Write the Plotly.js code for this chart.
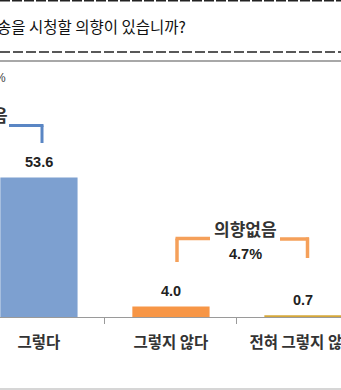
<!DOCTYPE html>
<html>
<head>
<meta charset="utf-8">
<script src="https://cdn.plot.ly/plotly-3.0.1.min.js"></script>
<style>
  html, body { margin: 0; padding: 0; background: #ffffff; }
  #chart { width: 341px; height: 390px; }
</style>
</head>
<body>
<div id="chart"></div>
<script>
// ---- data ----
const categories = ["그렇다", "그렇지 않다", "전혀 그렇지 않다"];
const values = [53.6, 4.0, 0.7];
const barColors = ["#7da0d0", "#f79646", "#d6a83a"];
const questionText = "송을 시청할 의향이 있습니까?";
const unitLabel = "%";
const yesGroupLabel = "의향있음";
const noGroupLabel = "의향없음";
const noGroupValue = values[1] + values[2];

// ---- layout helpers (pixel -> paper) ----
const W = 341, H = 390, MB = 73;
const PH = H - MB;                 // plot height
const pxX = x => x / W;
const pxY = y => (PH - y) / PH;
const unitPx = 139.6 / 53.6;        // pixels per %

const trace = {
  type: "bar",
  x: categories,
  y: values,
  width: 0.585,
  marker: { color: barColors, line: { width: 0 } },
  hoverinfo: "skip"
};

const labelFont = { family: "Liberation Sans, Arial, sans-serif", size: 14.5, color: "#222222", weight: 700 };
const krBold = { family: "Noto Sans CJK KR, sans-serif", size: 17, color: "#333333", weight: 700 };

const annotations = categories.map((c, i) => ({
  x: c, y: values[i], xref: "x", yref: "y",
  text: values[i].toFixed(1), showarrow: false,
  yanchor: "middle", yshift: 15.5, font: labelFont
}));

annotations.push(
  { x: 0, y: pxY(26), xref: "paper", yref: "paper", xanchor: "left", yanchor: "middle",
    xshift: -5, text: questionText, showarrow: false,
    font: { family: "Noto Sans CJK KR, sans-serif", size: 15.5, color: "#111111" } },
  { x: pxX(8), y: pxY(78), xref: "paper", yref: "paper", xanchor: "right", yanchor: "middle",
    text: unitLabel, showarrow: false,
    font: { family: "Liberation Sans, Arial, sans-serif", size: 12, color: "#444444" } },
  { x: pxX(10), y: pxY(115), xref: "paper", yref: "paper", xanchor: "right", yanchor: "middle",
    text: yesGroupLabel, showarrow: false, font: krBold },
  { x: pxX(245.5), y: pxY(229), xref: "paper", yref: "paper", xanchor: "center", yanchor: "middle",
    text: noGroupLabel, showarrow: false, font: krBold },
  { x: pxX(245), y: pxY(253.5), xref: "paper", yref: "paper", xanchor: "center", yanchor: "middle",
    text: noGroupValue.toFixed(1) + "%", showarrow: false, font: labelFont }
);

function seg(x0, y0, x1, y1, color, width, dash) {
  return { type: "line", xref: "paper", yref: "paper",
    x0: pxX(x0), y0: pxY(y0), x1: pxX(x1), y1: pxY(y1),
    line: { color: color, width: width, dash: dash || "solid" } };
}

const blue = "#5a86c4", orange = "#f5a05a";
const shapes = [
  seg(0, 0.8, W, 0.8, "#222222", 1.5, "10px,2px"),
  seg(0, 52, W, 52, "#222222", 1.5, "10px,3px"),
  seg(0, 61, W, 61, "#a8a8a8", 2),
  seg(0, 389, W, 389, "#c8c8c8", 1.5),
  // blue bracket
  seg(9, 125.5, 43.5, 125.5, blue, 3),
  seg(42, 125.5, 42, 143, blue, 3),
  // orange bracket
  seg(177, 262, 177, 238.5, orange, 3.5),
  seg(175.5, 238.5, 210, 238.5, orange, 3.5),
  seg(280, 239, 309, 239, orange, 3.5),
  seg(307.5, 237.5, 307.5, 258, orange, 3.5)
];

const layout = {
  width: W, height: H,
  margin: { l: 0, r: 0, t: 0, b: MB, pad: 0 },
  paper_bgcolor: "#ffffff", plot_bgcolor: "#ffffff",
  showlegend: false,
  xaxis: {
    type: "category",
    categoryorder: "array", categoryarray: categories,
    range: [-0.295, 2.288],
    showline: true, linecolor: "#9a9a9a", linewidth: 1,
    ticks: "outside", tickson: "boundaries", ticklen: 6, tickcolor: "#9a9a9a", tickwidth: 1,
    tickangle: 0, ticklabelstandoff: 11,
    tickfont: { family: "Noto Sans CJK KR, sans-serif", size: 15.5, color: "#333333", weight: 700 },
    showgrid: false, zeroline: false, fixedrange: true
  },
  yaxis: {
    visible: false, range: [0, PH / unitPx], showgrid: false, zeroline: false, fixedrange: true
  },
  annotations: annotations,
  shapes: shapes
};

Plotly.newPlot("chart", [trace], layout, { displayModeBar: false, staticPlot: true });
</script>
</body>
</html>
